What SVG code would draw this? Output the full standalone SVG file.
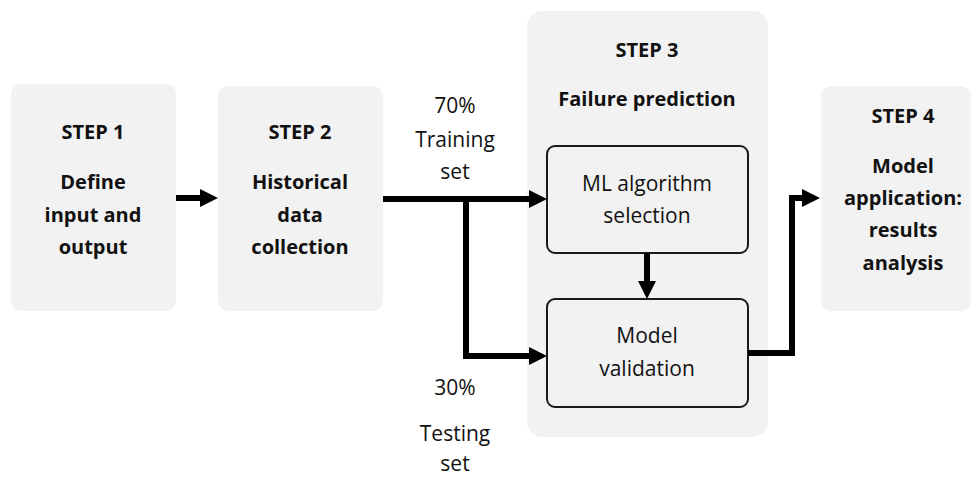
<svg xmlns="http://www.w3.org/2000/svg" width="973" height="478" viewBox="0 0 973 478">
  <defs>
    <style>
      .panel { fill: #f2f2f2; }
      .inner { fill: #f2f2f2; stroke: #1a1a1a; stroke-width: 2; }
      .title { font-family: "Open Sans", "Liberation Sans", sans-serif; font-weight: bold; font-size: 20px; fill: #111; text-anchor: middle; }
      .label { font-family: "Open Sans", "Liberation Sans", sans-serif; font-size: 21px; fill: #111; text-anchor: middle; }
      .wire { fill: none; stroke: #000; stroke-width: 6; stroke-linejoin: miter; }
    </style>
    <marker id="head" viewBox="0 0 18 18" refX="0" refY="9" markerWidth="18" markerHeight="18" markerUnits="userSpaceOnUse" orient="auto">
      <path d="M0,0 L18,9 L0,18 Z" fill="#000"/>
    </marker>
  </defs>

  <rect width="973" height="478" fill="#ffffff"/>

  <!-- Step 1 -->
  <g id="step1">
    <rect class="panel" x="11" y="84" width="165" height="227" rx="10"/>
    <text class="title" x="93" y="139">STEP 1</text>
    <text class="title" x="93" y="189">Define</text>
    <text class="title" x="93" y="222">input and</text>
    <text class="title" x="93" y="254">output</text>
  </g>

  <!-- Step 2 -->
  <g id="step2">
    <rect class="panel" x="218" y="86" width="165" height="225" rx="10"/>
    <text class="title" x="300" y="139">STEP 2</text>
    <text class="title" x="300" y="189">Historical</text>
    <text class="title" x="300" y="222">data</text>
    <text class="title" x="300" y="254">collection</text>
  </g>

  <!-- Step 3 container -->
  <g id="step3">
    <rect class="panel" x="527" y="11" width="241" height="426" rx="15"/>
    <text class="title" x="647" y="57">STEP 3</text>
    <text class="title" x="647" y="106">Failure prediction</text>
  </g>

  <g id="ml-selection">
    <rect class="inner" x="547" y="146" width="201" height="107" rx="8"/>
    <text class="label" x="647" y="191">ML algorithm</text>
    <text class="label" x="647" y="223">selection</text>
  </g>

  <g id="model-validation">
    <rect class="inner" x="547" y="299" width="201" height="108" rx="8"/>
    <text class="label" x="647" y="343">Model</text>
    <text class="label" x="647" y="376">validation</text>
  </g>

  <!-- Step 4 -->
  <g id="step4">
    <rect class="panel" x="821" y="86" width="150" height="225" rx="10"/>
    <text class="title" x="903" y="123">STEP 4</text>
    <text class="title" x="903" y="173">Model</text>
    <text class="title" x="903" y="205">application:</text>
    <text class="title" x="903" y="237">results</text>
    <text class="title" x="903" y="270">analysis</text>
  </g>

  <!-- Split labels -->
  <g id="split-labels">
    <text class="label" x="455" y="113">70%</text>
    <text class="label" x="455" y="147">Training</text>
    <text class="label" x="455" y="179">set</text>
    <text class="label" x="455" y="395">30%</text>
    <text class="label" x="455" y="441">Testing</text>
    <text class="label" x="455" y="471">set</text>
  </g>

  <!-- Connectors -->
  <g id="connectors">
    <path class="wire" d="M176,198 H200" marker-end="url(#head)"/>
    <path class="wire" d="M383,199 H529" marker-end="url(#head)"/>
    <path class="wire" d="M466,199 V356 H529" marker-end="url(#head)"/>
    <path class="wire" d="M647,253 V281" marker-end="url(#head)"/>
    <path class="wire" d="M748,353 H792 V198 H802" marker-end="url(#head)"/>
  </g>
</svg>
